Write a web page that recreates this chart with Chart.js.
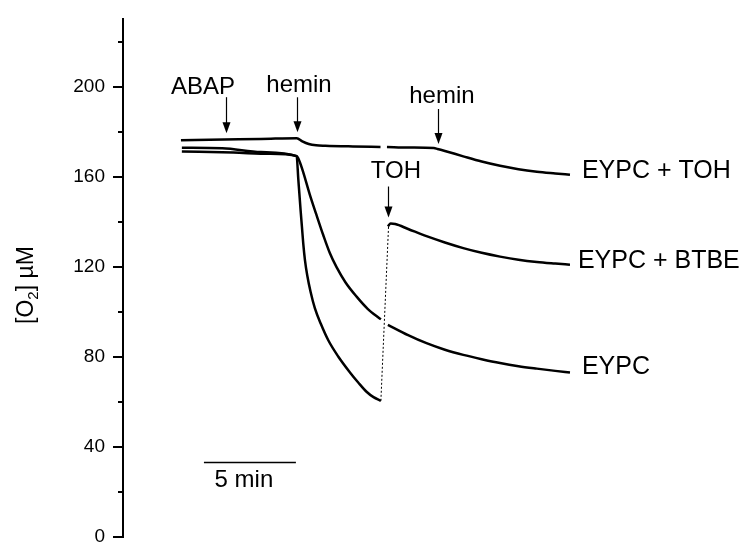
<!DOCTYPE html>
<html>
<head>
<meta charset="utf-8">
<script src="https://cdn.jsdelivr.net/npm/chart.js@4.4.1/dist/chart.umd.min.js"></script>
<style>
  body { margin: 0; background: #fff; }
  canvas { display: block; }
</style>
</head>
<body>
<canvas id="o2Chart" width="744" height="556"></canvas>
<script>
// O2 consumption traces (time in min, [O2] in uM)
const tohTime = [3.15, 5.5, 7.5, 9.45, 9.75, 10.1, 10.5, 11.0, 12.5, 14.0, 14.2, 14.35, 15.5, 16.9, 17.1, 17.5, 18.5, 19.5, 20.5, 21.5, 22.5, 23.5, 24.3];
const tohO2 = [176.3, 176.6, 176.8, 177.2, 175.8, 174.6, 174.0, 173.8, 173.5, 173.3, null, 173.3, 173.0, 172.8, 172.4, 171.5, 169.1, 166.8, 164.9, 163.4, 162.3, 161.5, 160.9];

const eypcTime = [3.2, 5.4, 7.5, 9.45, 9.6, 9.8, 10.16, 10.5, 10.89, 11.25, 11.61, 12.1, 12.7, 13.3, 14.02, 14.2, 14.4, 15.5, 16.5, 17.5, 18.5, 19.5, 20.5, 21.5, 22.5, 23.5, 24.3];
const eypcO2 = [172.9, 172.7, 171.0, 169.2, 166.8, 162.0, 152.0, 143.5, 134.0, 126.0, 119.8, 113.0, 106.7, 101.3, 96.6, null, 94.2, 89.6, 86.0, 83.1, 80.8, 78.9, 77.2, 75.8, 74.7, 73.7, 73.0];

const btbeTime = [3.2, 6.0, 8.0, 9.44, 9.53, 9.66, 9.73, 9.8, 9.89, 10.02, 10.2, 10.43, 10.76, 11.16, 11.7, 12.34, 12.8, 13.24, 13.62, 14.02, 14.2, 14.4, 14.55, 14.8, 15.5, 16.5, 17.5, 18.5, 19.5, 20.5, 21.5, 22.5, 23.5, 24.3];
const btbeO2 = [171.3, 170.8, 170.2, 169.2, 159.0, 144.6, 137.5, 130.3, 123.1, 116.0, 108.8, 101.6, 94.5, 87.3, 80.1, 73.0, 68.4, 64.4, 62.0, 60.4, null, 138.0, 139.2, 139.0, 136.8, 133.6, 130.8, 128.3, 126.2, 124.5, 123.1, 122.1, 121.4, 120.9];

// dotted jump after TOH addition
const jumpTime = [14.02, 14.44];
const jumpO2 = [60.4, 138.6];

// y ticks
const majorTicks = [0, 40, 80, 120, 160, 200];
const minorTicks = [20, 60, 100, 140, 180, 220];

// addition arrows: time, O2 at tip, length in px
const arrows = [
  { x: 5.6, y: 179.4, len: 36 },
  { x: 9.46, y: 179.8, len: 35 },
  { x: 17.1, y: 174.6, len: 35 },
  { x: 14.4, y: 141.9, len: 31 }
];

// text labels
const labels = [
  { text: 'ABAP', x: 4.35, y: 196.8, align: 'center' },
  { text: 'hemin', x: 9.57, y: 197.8, align: 'center' },
  { text: 'hemin', x: 17.34, y: 192.7, align: 'center' },
  { text: 'TOH', x: 14.84, y: 159.3, align: 'center' }
];
const traceLabels = [
  { text: 'EYPC + TOH', x: 24.95, y: 162.6 },
  { text: 'EYPC + BTBE', x: 24.73, y: 122.6 },
  { text: 'EYPC', x: 24.95, y: 75.3 }
];

// 5 min scale bar
const barStart = 4.4;
const barEnd = 9.4;
const barLevel = 33.1;

const FONT = '"Liberation Sans", Arial, Helvetica, sans-serif';

function toPoints(xs, ys) {
  return xs.map((x, i) => ({ x: x, y: ys[i] }));
}

function trace(xs, ys) {
  return {
    data: toPoints(xs, ys),
    borderColor: '#000',
    borderWidth: 2.5,
    pointRadius: 0,
    cubicInterpolationMode: 'monotone',
    spanGaps: false,
    fill: false
  };
}

const annotate = {
  id: 'annotate',
  afterDraw(chart) {
    const ctx = chart.ctx;
    const xs = chart.scales.x;
    const ys = chart.scales.y;
    ctx.save();

    // minor ticks
    ctx.strokeStyle = '#000';
    ctx.lineWidth = 2;
    const axisX = ys.right;
    minorTicks.forEach(v => {
      const py = Math.round(ys.getPixelForValue(v));
      ctx.beginPath();
      ctx.moveTo(axisX - 5, py);
      ctx.lineTo(axisX, py);
      ctx.stroke();
    });

    // arrows
    ctx.fillStyle = '#000';
    arrows.forEach(a => {
      const px = Math.round(xs.getPixelForValue(a.x)) + 0.5;
      const tip = ys.getPixelForValue(a.y);
      ctx.lineWidth = 1.2;
      ctx.beginPath();
      ctx.moveTo(px, tip - a.len);
      ctx.lineTo(px, tip - 8);
      ctx.stroke();
      ctx.beginPath();
      ctx.moveTo(px, tip);
      ctx.lineTo(px - 4, tip - 11);
      ctx.lineTo(px + 4, tip - 11);
      ctx.closePath();
      ctx.fill();
    });

    // labels
    ctx.font = '24px ' + FONT;
    ctx.textBaseline = 'alphabetic';
    labels.forEach(l => {
      ctx.textAlign = l.align;
      ctx.fillText(l.text, xs.getPixelForValue(l.x), ys.getPixelForValue(l.y));
    });
    ctx.font = '25px ' + FONT;
    ctx.textAlign = 'left';
    ctx.textBaseline = 'middle';
    traceLabels.forEach(l => {
      ctx.fillText(l.text, xs.getPixelForValue(l.x), ys.getPixelForValue(l.y));
    });

    // scale bar
    const by = Math.round(ys.getPixelForValue(barLevel)) + 0.5;
    const bx0 = xs.getPixelForValue(barStart);
    const bx1 = xs.getPixelForValue(barEnd);
    ctx.lineWidth = 1.3;
    ctx.beginPath();
    ctx.moveTo(bx0, by);
    ctx.lineTo(bx1, by);
    ctx.stroke();
    ctx.font = '24px ' + FONT;
    ctx.textAlign = 'center';
    ctx.textBaseline = 'alphabetic';
    ctx.fillText('5 min', (bx0 + bx1) / 2 - 6, by + 24);

    // y axis title with subscript
    ctx.translate(33, 285);
    ctx.rotate(-Math.PI / 2);
    const big = '23px ' + FONT;
    const small = '15px ' + FONT;
    ctx.font = big;
    const w1 = ctx.measureText('[O').width;
    const w3 = ctx.measureText('] \u00b5M').width;
    ctx.font = small;
    const w2 = ctx.measureText('2').width;
    let x = -(w1 + w2 + w3) / 2;
    ctx.textAlign = 'left';
    ctx.font = big;
    ctx.fillText('[O', x, 0);
    x += w1;
    ctx.font = small;
    ctx.fillText('2', x, 5);
    x += w2;
    ctx.font = big;
    ctx.fillText('] \u00b5M', x, 0);

    ctx.restore();
  }
};

const o2Ctx = document.getElementById('o2Chart').getContext('2d');
const o2Chart = new Chart(o2Ctx, {
  type: 'line',
  data: {
    datasets: [
      trace(tohTime, tohO2),
      trace(eypcTime, eypcO2),
      trace(btbeTime, btbeO2),
      {
        data: toPoints(jumpTime, jumpO2),
        borderColor: '#000',
        borderWidth: 1,
        borderDash: [2, 2],
        pointRadius: 0,
        fill: false
      }
    ]
  },
  options: {
    responsive: false,
    animation: false,
    layout: { padding: { left: 0, top: 13, right: 14, bottom: 8 } },
    plugins: {
      legend: { display: false },
      tooltip: { enabled: false }
    },
    scales: {
      x: { type: 'linear', min: 0, max: 33, display: false },
      y: {
        min: 0,
        max: 230,
        border: { display: true, color: '#000', width: 2 },
        grid: { drawOnChartArea: false, tickLength: 10, color: '#000', lineWidth: 2 },
        afterBuildTicks: scale => {
          scale.ticks = majorTicks.map(v => ({ value: v }));
        },
        ticks: {
          padding: 8,
          color: '#000',
          font: { size: 19, family: FONT }
        },
        afterFit: scale => { scale.width = 123; }
      }
    }
  },
  plugins: [annotate]
});
</script>
</body>
</html>
